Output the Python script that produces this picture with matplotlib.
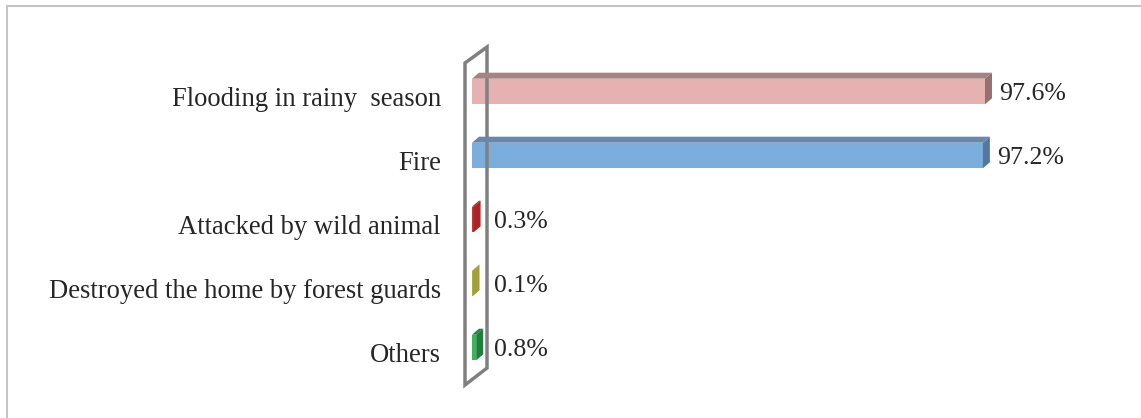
import matplotlib
matplotlib.use("Agg")
import matplotlib.pyplot as plt
from matplotlib.patches import Polygon
from matplotlib.lines import Line2D

# Data
categories = [
    "Flooding in rainy  season",
    "Fire",
    "Attacked by wild animal",
    "Destroyed the home by forest guards",
    "Others",
]
values = [97.6, 97.2, 0.3, 0.1, 0.8]
value_labels = ["97.6%", "97.2%", "0.3%", "0.1%", "0.8%"]

front_colors = ["#E5B1B1", "#7BAEDD", "#C0392F", "#B5B545", "#3CB45A"]
top_colors = ["#A88282", "#6688AE", "#9E2222", "#8F8F30", "#1F8440"]
side_colors = ["#957070", "#54789C", "#AA2424", "#A0A03A", "#1E7F3D"]

W, H = 1141, 418
DEPTH_X, DEPTH_Y = 7, 6  # 3-D depth offset in pixels

fig = plt.figure(figsize=(W / 100, H / 100), dpi=100)
fig.patch.set_facecolor("white")

# outer chart frame
fig.add_artist(Line2D([7 / W, 7 / W], [0, 1 - 6 / H], color="#C4C4C4", lw=1.5,
                      transform=fig.transFigure))
fig.add_artist(Line2D([7 / W, 1], [1 - 6 / H, 1 - 6 / H], color="#C4C4C4", lw=1.5,
                      transform=fig.transFigure))

left_px, right_px = 472, 472 + 100 * 5.256
top_px, bot_px = 59.5, 379.5
ax = fig.add_axes([left_px / W, 1 - bot_px / H, (right_px - left_px) / W,
                   (bot_px - top_px) / H])
ax.set_xlim(0, 100)
ax.set_ylim(len(categories) - 0.5, -0.5)
ax.axis("off")

bar_h = 0.4
ypos = list(range(len(categories)))
ax.barh(ypos, values, height=bar_h, color=front_colors, linewidth=0, zorder=3)

fig.canvas.draw()
to_disp = ax.transData.transform

# side wall at x = 0 (display coordinates)
x0 = to_disp((0, 0))[0]
wall_front_x, wall_back_x = x0 - 7, x0 + 15
wall_poly = Polygon([(wall_front_x, H - 385), (wall_front_x, H - 63),
                     (wall_back_x, H - 47), (wall_back_x, H - 368)],
                    closed=True, fill=False, edgecolor="#808080", lw=2.5,
                    transform=None, zorder=1, joinstyle="miter")
fig.add_artist(wall_poly)

for i, (v, lab, tc, sc) in enumerate(zip(values, value_labels, top_colors, side_colors)):
    (xa, yt) = to_disp((0, i - bar_h / 2))
    (xb, yb) = to_disp((v, i + bar_h / 2))
    # top face
    top = Polygon([(xa, yt), (xb, yt), (xb + DEPTH_X, yt + DEPTH_Y), (xa + DEPTH_X, yt + DEPTH_Y)],
                  closed=True, facecolor=tc, edgecolor="none", transform=None, zorder=4)
    # right side face
    side = Polygon([(xb, yt), (xb + DEPTH_X, yt + DEPTH_Y), (xb + DEPTH_X, yb + DEPTH_Y), (xb, yb)],
                   closed=True, facecolor=sc, edgecolor="none", transform=None, zorder=4)
    fig.add_artist(top)
    fig.add_artist(side)

    # value label
    yc = to_disp((0, i))[1]
    lx = max(xb + DEPTH_X, wall_back_x) + 7
    fig.text(lx / W, (yc - 2) / H, lab, ha="left", va="center", fontsize=18.6,
             family="Liberation Serif", color="#262626")

    # category label
    fig.text((x0 - 31) / W, (yc - 8) / H, categories[i], ha="right", va="center",
             fontsize=19.2, family="Liberation Serif", color="#262626")

fig.savefig("out.png", dpi=100, facecolor="white")
